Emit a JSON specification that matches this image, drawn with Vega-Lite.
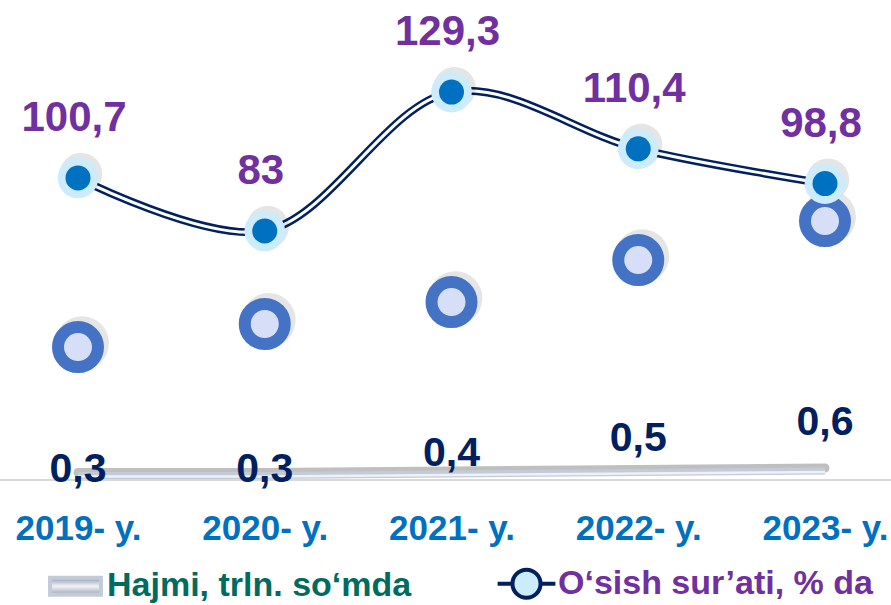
{
  "$schema": "https://vega.github.io/schema/vega-lite/v6.json",
  "width": 891,
  "height": 480,
  "autosize": {"type": "none"},
  "padding": {"left": 0, "top": 0, "right": 0, "bottom": 125},
  "background": "white",
  "config": {
    "view": {"stroke": null},
    "font": "Liberation Sans",
    "locale": {"number": {"decimal": ",", "thousands": " ", "grouping": [3], "currency": ["", ""]}},
    "axisX": {
      "domain": false, "ticks": false, "tickSize": 0, "grid": false,
      "labelAngle": 0, "labelFont": "Liberation Sans", "labelFontWeight": "bold",
      "labelFontSize": 35, "labelColor": "#0070C0", "labelBaseline": "middle",
      "labelPadding": 48, "title": null
    },
    "legend": {
      "orient": "none", "legendX": 47, "legendY": 555, "direction": "horizontal",
      "title": null, "padding": 0, "labelFont": "Liberation Sans", "labelFontWeight": "bold",
      "labelFontSize": 34, "labelLimit": 0, "symbolSize": 2809, "labelOffset": 3,
      "columnPadding": 77, "columns": 2
    }
  },
  "datasets": {
    "d": [
      {"year": "2019- y.", "series": "Hajmi, trln. so‘mda", "value": 0.3},
      {"year": "2020- y.", "series": "Hajmi, trln. so‘mda", "value": 0.3},
      {"year": "2021- y.", "series": "Hajmi, trln. so‘mda", "value": 0.4},
      {"year": "2022- y.", "series": "Hajmi, trln. so‘mda", "value": 0.5},
      {"year": "2023- y.", "series": "Hajmi, trln. so‘mda", "value": 0.6},
      {"year": "2019- y.", "series": "O‘sish sur’ati, % da", "value": 100.7},
      {"year": "2020- y.", "series": "O‘sish sur’ati, % da", "value": 83},
      {"year": "2021- y.", "series": "O‘sish sur’ati, % da", "value": 129.3},
      {"year": "2022- y.", "series": "O‘sish sur’ati, % da", "value": 110.4},
      {"year": "2023- y.", "series": "O‘sish sur’ati, % da", "value": 98.8},
      {"year": "2019- y.", "series": "Belgi", "value": 44.3},
      {"year": "2020- y.", "series": "Belgi", "value": 52},
      {"year": "2021- y.", "series": "Belgi", "value": 59.3},
      {"year": "2022- y.", "series": "Belgi", "value": 73.3},
      {"year": "2023- y.", "series": "Belgi", "value": 86.3}
    ]
  },
  "data": {"name": "d"},
  "resolve": {"scale": {"y": "independent"}},
  "layer": [
    {
      "mark": {"type": "rule", "stroke": "#D9D9D9", "strokeWidth": 1.5},
      "encoding": {"y": {"datum": 0, "type": "quantitative", "scale": {"domain": [0, 160]}, "axis": null}}
    },
    {
      "transform": [{"filter": "datum.series === 'Hajmi, trln. so‘mda'"}],
      "encoding": {
        "x": {"field": "year", "type": "ordinal", "scale": {"type": "point", "range": [78, 825], "padding": 0}, "title": null},
        "y": {"field": "value", "type": "quantitative", "scale": {"domain": [0, 32]}, "axis": null}
      },
      "layer": [
        {"mark": {"type": "line", "stroke": "#7F7F7F", "strokeWidth": 9, "opacity": 0.5, "yOffset": -3, "strokeCap": "round"}},
        {
          "mark": {"type": "line", "strokeWidth": 7, "strokeCap": "butt"},
          "encoding": {
            "color": {
              "field": "series", "type": "nominal",
              "scale": {"domain": ["Hajmi, trln. so‘mda", "O‘sish sur’ati, % da"], "range": ["#C3CBD8", "#002060"]},
              "legend": {
                "encode": {
                  "symbols": {"update": {
                    "shape": {"signal": "indexof(datum.label,'Hajmi') >= 0 ? 'M-0.96,-0.32H0.96V0.32H-0.96Z' : 'M-1.09,0H-0.53M0.53,0H1.09M-0.53,0A0.53,0.53 0 1,0 0.53,0A0.53,0.53 0 1,0 -0.53,0Z'"},
                    "fill": {"signal": "indexof(datum.label,'Hajmi') >= 0 ? {gradient:'linear',x1:0,y1:0,x2:0,y2:1,stops:[{offset:0,color:'#8D9AAF'},{offset:0.5,color:'#F1F3F7'},{offset:1,color:'#9AA4B4'}]} : '#CCEBFB'"},
                    "stroke": {"signal": "indexof(datum.label,'Hajmi') >= 0 ? 'transparent' : '#002060'"},
                    "strokeWidth": {"value": 4},
                    "opacity": {"value": 1}
                  }},
                  "labels": {"update": {
                    "fill": {"signal": "indexof(datum.label,'Hajmi') >= 0 ? '#006B5E' : '#7030A0'"}
                  }}
                }
              }
            }
          }
        },
        {"mark": {"type": "line", "stroke": "#EEF1F6", "strokeWidth": 2.5, "yOffset": 1}}
      ]
    },
    {
      "encoding": {
        "x": {"field": "year", "type": "ordinal", "scale": {"type": "point", "range": [78, 825], "padding": 0}, "title": null},
        "y": {"field": "value", "type": "quantitative", "scale": {"domain": [0, 160]}, "axis": null}
      },
      "layer": [
        {
          "transform": [{"filter": "datum.series === 'Belgi'"}],
          "layer": [
            {"mark": {"type": "point", "filled": true, "fill": "#000000", "size": 2900, "opacity": 0.1, "xOffset": 4, "yOffset": -4}},
            {"mark": {"type": "point", "filled": true, "fill": "#D6DEF8", "stroke": "#4472C4", "strokeWidth": 12, "size": 1600, "opacity": 1}}
          ]
        },
        {
          "transform": [{"filter": "datum.series === 'O‘sish sur’ati, % da'"}],
          "layer": [
            {
              "mark": {"type": "line", "strokeWidth": 8, "interpolate": "catmull-rom"},
              "encoding": {
                "color": {
                  "field": "series", "type": "nominal",
                  "scale": {"domain": ["Hajmi, trln. so‘mda", "O‘sish sur’ati, % da"], "range": ["#C3CBD8", "#002060"]}
                }
              }
            },
            {"mark": {"type": "line", "stroke": "white", "strokeWidth": 3, "interpolate": "catmull-rom"}},
            {"mark": {"type": "point", "filled": true, "fill": "#000000", "size": 1800, "opacity": 0.1, "xOffset": 3, "yOffset": -4}},
            {"mark": {"type": "point", "filled": true, "fill": "#CCEBFB", "size": 1650, "opacity": 1}},
            {"mark": {"type": "point", "filled": true, "fill": "#0070C0", "size": 625, "opacity": 1}},
            {
              "mark": {"type": "text", "font": "Liberation Sans", "fontWeight": "bold", "fontSize": 42, "fill": "#7030A0", "dy": -60, "dx": -4, "baseline": "middle"},
              "encoding": {"text": {"field": "value", "type": "quantitative", "format": "~r"}}
            }
          ]
        }
      ]
    },
    {
      "transform": [{"filter": "datum.series === 'Hajmi, trln. so‘mda'"}],
      "mark": {"type": "text", "font": "Liberation Sans", "fontWeight": "bold", "fontSize": 41, "fill": "#002060", "baseline": "middle"},
      "encoding": {
        "x": {"field": "year", "type": "ordinal", "scale": {"type": "point", "range": [78, 825], "padding": 0}, "title": null},
        "y": {"field": "value", "type": "quantitative", "scale": {"domain": [0.239, 3.258]}, "axis": null},
        "text": {"field": "value", "type": "quantitative", "format": ".1f"}
      }
    }
  ]
}
